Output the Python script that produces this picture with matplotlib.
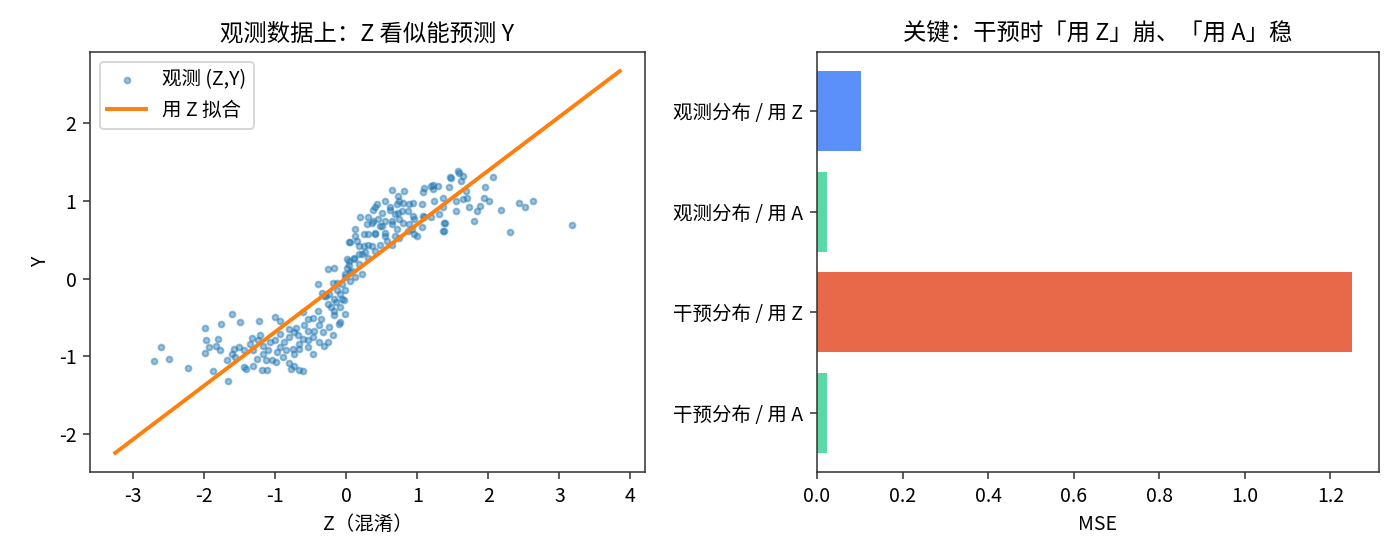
import numpy as np
import matplotlib
matplotlib.use("Agg")
import matplotlib.pyplot as plt

plt.rcParams['font.family'] = ['Noto Sans CJK SC', 'DejaVu Sans']
plt.rcParams['axes.unicode_minus'] = False
plt.rcParams['axes.edgecolor'] = '#333333'
plt.rcParams['xtick.color'] = '#333333'
plt.rcParams['ytick.color'] = '#333333'
plt.rcParams['xtick.labelcolor'] = 'black'
plt.rcParams['ytick.labelcolor'] = 'black'

obs_points = [
    # left sparse tail
    (-2.71, -1.06), (-2.60, -0.88), (-2.50, -1.03), (-2.22, -1.15), (-1.99, -0.63),
    (-1.97, -0.79), (-1.99, -0.95), (-1.93, -0.88), (-1.88, -1.19), (-1.83, -0.87),
    (-1.81, -0.78), (-1.78, -0.92), (-1.76, -0.58), (-1.68, -1.05), (-1.67, -1.32),
    (-1.60, -0.45), (-1.49, -0.56), (-1.22, -0.54), (-1.00, -0.49), (-0.93, -0.55),
    # left cluster
    (-1.61, -0.97), (-1.58, -0.90), (-1.51, -0.88), (-1.44, -0.92), (-1.56, -1.01),
    (-1.44, -1.14), (-1.41, -1.16), (-1.31, -1.12), (-1.19, -1.17), (-1.11, -1.17),
    (-1.35, -0.84), (-1.33, -0.76), (-1.24, -0.79), (-1.21, -0.73), (-1.17, -0.86),
    (-1.10, -0.92), (-1.07, -0.82), (-1.00, -0.79), (-0.98, -0.94), (-0.93, -0.88),
    (-0.89, -1.01), (-1.05, -1.05), (-0.99, -1.07), (-0.80, -0.75), (-0.73, -0.69),
    (-0.66, -0.84), (-0.80, -1.09), (-0.77, -1.16), (-0.66, -1.18), (-0.73, -0.97),
    (-0.84, -0.92), (-0.71, -0.64), (-0.80, -0.65), (-1.31, -0.92), (-1.26, -1.03),
    (-1.17, -0.97), (-1.13, -1.05), (-0.93, -0.71), (-0.87, -0.82),
    # lower centre
    (-0.61, -0.43), (-0.54, -0.52), (-0.59, -0.60), (-0.40, -0.41), (-0.47, -0.50),
    (-0.36, -0.52), (-0.38, -0.60), (-0.24, -0.62), (-0.17, -0.47), (-0.10, -0.58),
    (-0.22, -0.37), (-0.08, -0.37), (-0.01, -0.45), (-0.68, -0.73), (-0.61, -0.77),
    (-0.54, -0.79), (-0.47, -0.75), (-0.38, -0.82), (-0.26, -0.82), (-0.19, -0.73),
    (-0.33, -0.69), (-0.45, -0.67), (-0.75, -0.90), (-0.66, -0.90), (-0.47, -0.97),
    (-0.54, -0.88), (-0.73, -1.12), (-0.61, -1.19), (-0.31, -0.86), (-0.54, -0.67),
    # centre
    (-0.25, 0.12), (-0.17, 0.14), (-0.40, -0.07), (-0.19, -0.06), (-0.13, -0.05),
    (-0.34, -0.18), (-0.29, -0.22), (-0.17, -0.26), (-0.08, -0.20), (-0.01, -0.15),
    (-0.03, -0.28), (-0.08, -0.56), (0.01, 0.14), (-0.01, 0.06), (0.06, 0.08),
    (0.04, 0.23), (0.11, 0.25), (0.18, 0.19), (0.13, 0.02), (0.22, 0.06),
    (0.06, 0.47), (0.18, 0.42), (0.31, 0.44), (0.41, 0.36), (0.22, 0.32),
    (0.31, 0.27), (-0.17, -0.41),
    (0.13, 0.55), (0.15, 0.49), (0.29, 0.70), (0.36, 0.72), (0.50, 0.68),
    (0.64, 0.70), (0.31, 0.57), (0.41, 0.57), (0.68, 0.55), (0.75, 0.53),
    (0.25, 0.42), (0.36, 0.42), (0.48, 0.44), (0.18, 0.32), (0.27, 0.34),
    (0.11, 0.27), (0.01, 0.25), (0.04, 0.17), (0.08, 0.10), (-0.01, 0.02),
    (0.06, -0.03), (-0.06, -0.07), (-0.13, -0.15), (-0.24, -0.20), (-0.31, -0.22),
    (-0.06, -0.26), (-0.15, -0.30), (-0.26, -0.32),
    # upper cluster
    (0.64, 1.14), (0.73, 1.06), (0.80, 0.98), (0.54, 1.00), (0.43, 0.96),
    (0.38, 0.89), (0.31, 0.79), (0.20, 0.79), (0.38, 0.74), (0.50, 0.85),
    (0.62, 0.92), (0.69, 0.83), (0.75, 0.77), (0.89, 0.96), (0.94, 0.98),
    (1.06, 0.96), (1.08, 1.11), (1.10, 1.17), (1.19, 1.19), (1.29, 1.19),
    (1.45, 1.18), (1.47, 1.30), (1.59, 1.36), (1.22, 1.15), (1.54, 1.00),
    (1.54, 0.87), (1.36, 0.92), (1.31, 0.83), (1.38, 0.72), (1.08, 0.81),
    (1.19, 0.79), (0.96, 0.57), (1.06, 0.66), (0.87, 0.62), (0.89, 0.70),
    (0.55, 0.59), (0.64, 0.44), (0.55, 0.74), (0.94, 0.81), (1.70, 1.04),
    (1.61, 1.26), (0.78, 0.87), (0.71, 0.96), (0.48, 0.68), (0.13, 0.64),
    (0.04, 0.47), (0.25, 0.57),
    (0.82, 1.13), (1.22, 1.21), (0.75, 1.00), (1.24, 1.00), (1.36, 1.04),
    (0.41, 0.92), (0.62, 0.89), (0.73, 0.85), (0.87, 0.87), (0.96, 0.77),
    (1.10, 0.79), (0.45, 0.77), (0.64, 0.74), (0.80, 0.72), (0.71, 0.64),
    (0.92, 0.64), (1.36, 0.62), (0.99, 0.55), (0.41, 0.59), (0.55, 0.55),
    (0.57, 0.49),
    # right tail
    (1.57, 1.38), (1.65, 1.32), (1.46, 1.31), (2.06, 1.31), (1.96, 1.18),
    (1.68, 1.13), (1.94, 1.04), (2.01, 1.00), (1.65, 1.02), (1.73, 0.92),
    (1.89, 0.94), (1.84, 0.87), (1.80, 0.74), (2.18, 0.88), (2.43, 0.97),
    (2.52, 0.92), (2.63, 1.00), (2.31, 0.60), (3.18, 0.69), (1.39, 0.72),
    (1.37, 0.62),
]
obs_z = [p[0] for p in obs_points]
obs_y = [p[1] for p in obs_points]

# fitted line "用 Z 拟合" (end points)
fit_z = [-3.25, 3.85]
fit_y = [-2.24, 2.67]

# ── MSE bars ─────────────────────────────────────────────────────────────────
bar_labels = ["观测分布 / 用 Z", "观测分布 / 用 A", "干预分布 / 用 Z", "干预分布 / 用 A"]
bar_mse = [0.103, 0.023, 1.251, 0.023]
bar_colors = ["#5B8FF9", "#5AD8A6", "#E8684A", "#5AD8A6"]

fig = plt.figure(figsize=(10, 4), dpi=140)
ax1 = fig.add_axes([90 / 1400, 88 / 560, 555 / 1400, 420 / 560])
ax2 = fig.add_axes([817 / 1400, 88 / 560, 562 / 1400, 420 / 560])

# left panel
ax1.scatter(obs_z, obs_y, s=9, alpha=0.45, color="tab:blue", label="观测 (Z,Y)")
ax1.plot(fit_z, fit_y, color="tab:orange", linewidth=2, label="用 Z 拟合")
ax1.set_title("观测数据上：Z 看似能预测 Y", fontsize=12)
ax1.set_xlabel("Z（混淆）")
ax1.set_ylabel("Y")
ax1.legend(loc="upper left")

# right panel
ypos = np.arange(len(bar_labels))
ax2.barh(ypos, bar_mse, color=bar_colors, height=0.8)
ax2.set_yticks(ypos)
ax2.set_yticklabels(bar_labels)
ax2.invert_yaxis()
ax2.set_title("关键：干预时「用 Z」崩、「用 A」稳", fontsize=12)
ax2.set_xlabel("MSE")

plt.savefig("out.png", dpi=140)
plt.close()
